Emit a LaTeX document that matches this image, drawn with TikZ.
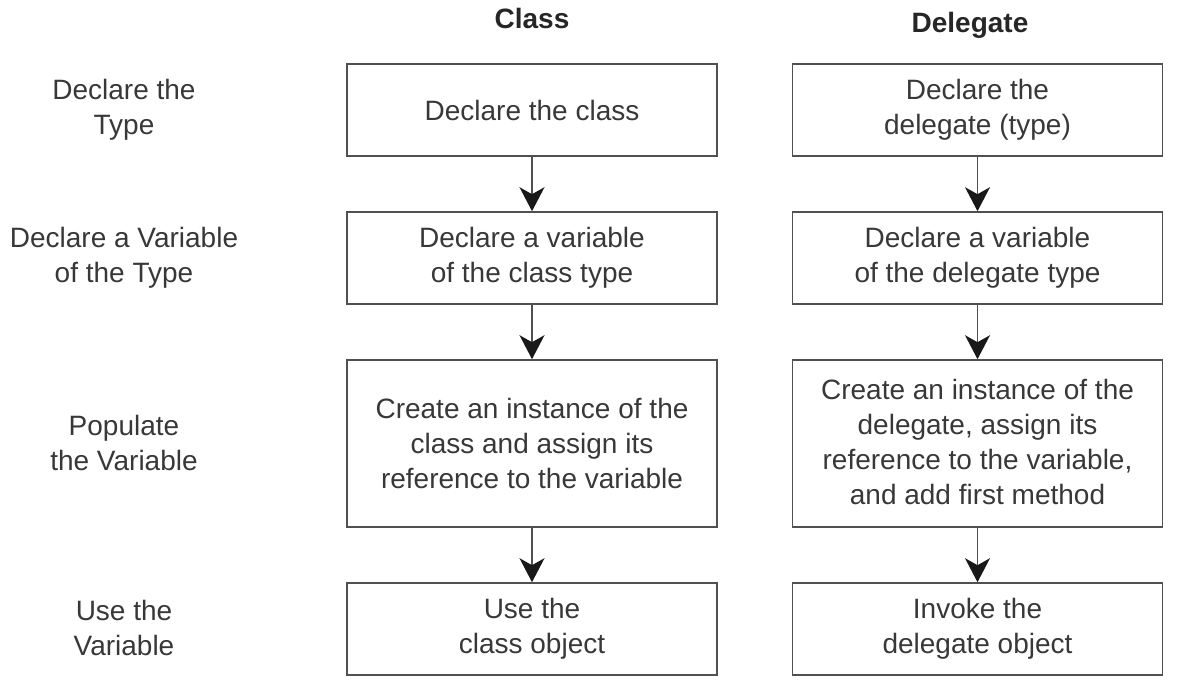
\documentclass[tikz,border=0pt]{standalone}
\usepackage{fontspec}
\setmainfont{Liberation Sans}
\usetikzlibrary{positioning}
\usetikzlibrary{arrows.meta}
\definecolor{boxgray}{HTML}{505050}
\definecolor{txtgray}{HTML}{383838}

\begin{document}
\begin{tikzpicture}[x=1pt,y=-1pt,
  stage/.style={draw=boxgray, line width=1.6pt, minimum width=370pt, minimum height=92pt,
    inner sep=0pt, align=center, text=txtgray, font=\fontsize{28}{35}\selectfont},
  rowlabel/.style={align=center, text=txtgray, font=\fontsize{28}{35}\selectfont},
  colhead/.style={text=black!85, font=\fontsize{28}{35}\selectfont\bfseries},
  flow/.style={draw=boxgray, line width=1.8pt, -{Stealth[length=24pt,width=25pt,inset=7pt,color=black!90]}}]
		\useasboundingbox (0,0) rectangle (1204,696);
		% column heads
		\node[colhead] (hcls) at (532,18) {Class};
		\node[colhead] (hdel) at (970,25) {Delegate};
		% row labels
		\node[rowlabel] (ltype) at (124,110) {Declare the\\Type};
		\node[rowlabel] (lvar) at (124,258) {Declare a Variable\\of the Type};
		\node[rowlabel] (lpop) at (124,443) {Populate\\the Variable};
		\node[rowlabel] (luse) at (124,628) {Use the\\Variable};
		% class column
		\node[stage] (cls1) at (532,110) {Declare the class};
		\node[stage] (cls2) at (532,258) {Declare a variable\\of the class type};
		\node[stage, minimum height=167pt] (cls3) at (532,443.5) {Create an instance of the\\class and assign its\\reference to the variable};
		\node[stage] (cls4) at (532,629) {Use the\\class object};
		% delegate column
		\node[stage] (del1) at (977.5,110) {Declare the\\delegate (type)};
		\node[stage] (del2) at (977.5,258) {Declare a variable\\of the delegate type};
		\node[stage, minimum height=167pt, text depth=4pt] (del3) at (977.5,443.5) {Create an instance of the\\delegate, assign its\\reference to the variable,\\and add first method};
		\node[stage] (del4) at (977.5,629) {Invoke the\\delegate object};
		\foreach \a/\b in {cls1/cls2,cls2/cls3,cls3/cls4,del1/del2,del2/del3,del3/del4}
			\draw[flow] (\a) -- (\b);
\end{tikzpicture}
\end{document}
